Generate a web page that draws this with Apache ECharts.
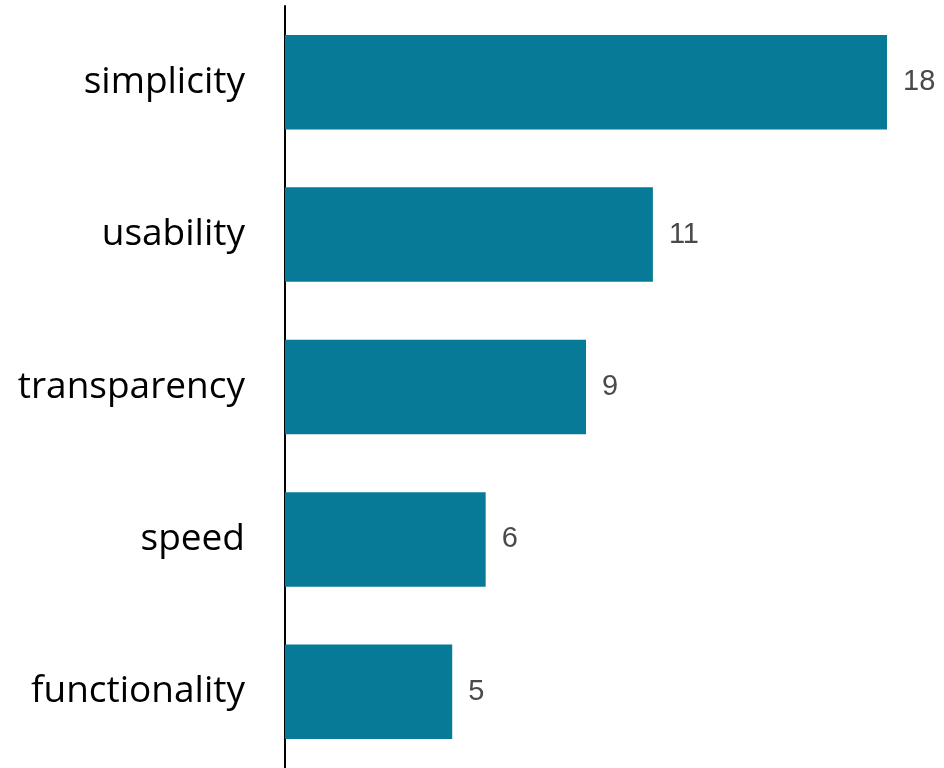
<!DOCTYPE html>
<html><head><meta charset="utf-8">
<script src="https://cdn.jsdelivr.net/npm/echarts@6/dist/echarts.min.js"></script>
<style>html,body{margin:0;padding:0;background:#fff}#c{width:944px;height:768px}</style>
</head><body><div id="c"></div>
<script>
const categories = ["simplicity", "usability", "transparency", "speed", "functionality"];
const values = [18, 11, 9, 6, 5];

const chart = echarts.init(document.getElementById('c'), null, {renderer: 'canvas'});
chart.setOption({
  animation: false,
  grid: {left: 285, right: 57, top: 6, bottom: 0, containLabel: false},
  xAxis: {type: 'value', min: 0, max: 18, show: false},
  yAxis: {
    type: 'category', data: categories, inverse: true,
    axisLine: {show: true, lineStyle: {color: '#000', width: 2}},
    axisTick: {show: false},
    axisLabel: {color: '#000', fontSize: 37, fontFamily: 'Open Sans', margin: 40}
  },
  series: [{
    type: 'bar', data: values, barCategoryGap: '38%',
    itemStyle: {color: '#077A98'},
    label: {show: true, position: 'right', distance: 16, color: '#4a4a4a', fontSize: 29, fontFamily: 'Liberation Sans'}
  }]
});
</script></body></html>
